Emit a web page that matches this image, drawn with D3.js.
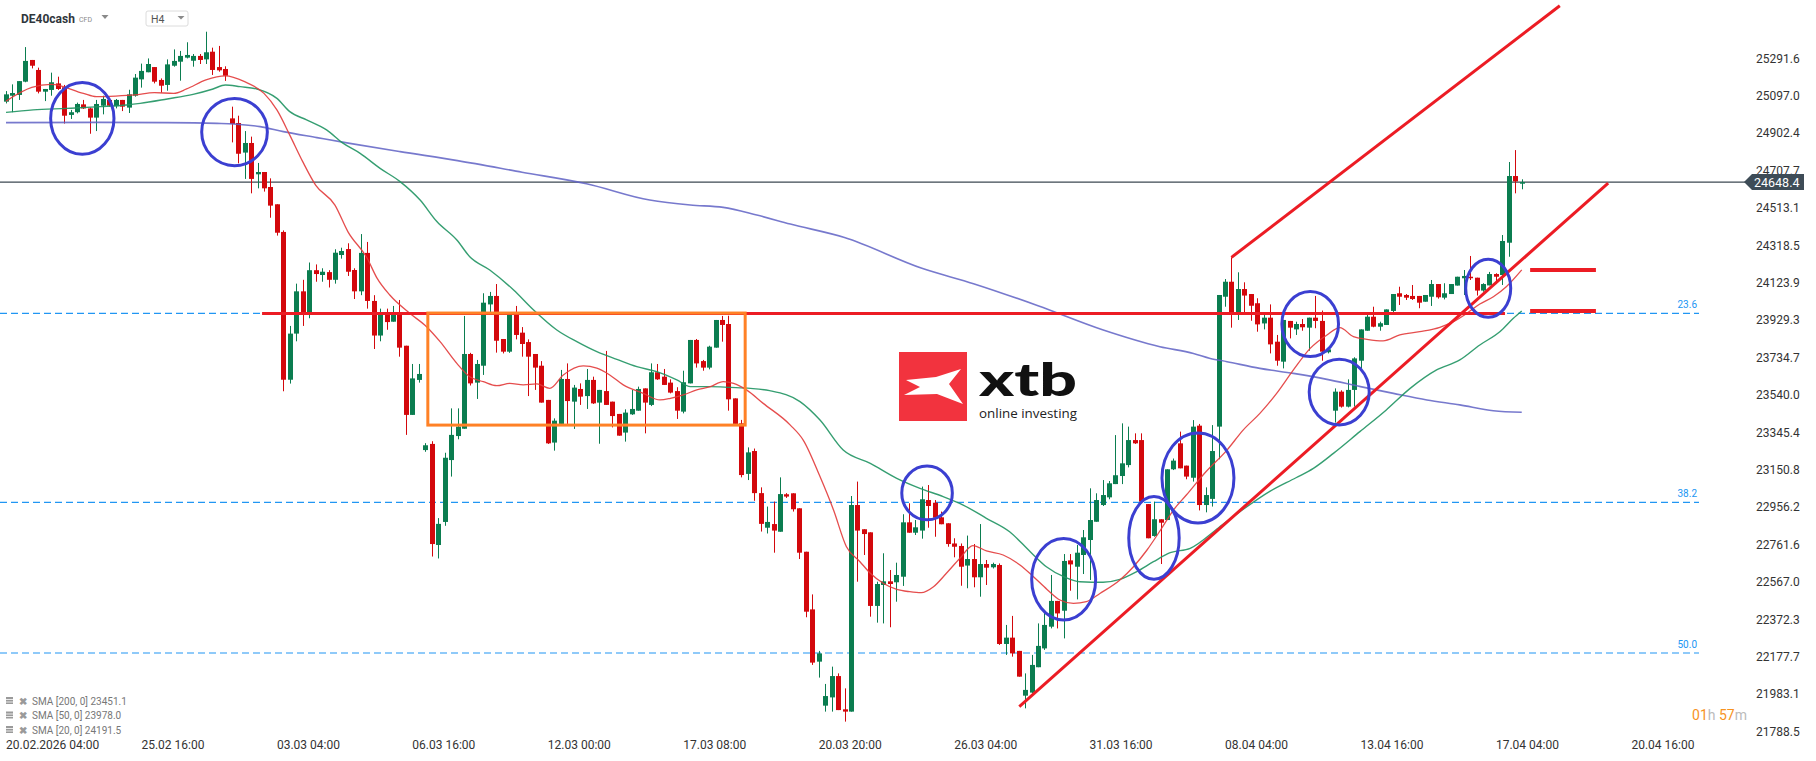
<!DOCTYPE html>
<html><head><meta charset="utf-8">
<script src="https://cdn.jsdelivr.net/npm/d3@7"></script>
<style>
html,body{margin:0;padding:0;background:#fff;}
svg{display:block;font-family:Roboto,"Noto Sans",sans-serif;}
</style></head><body>
<svg id="chart" width="1816" height="761"></svg>
<script>
// ---------- DATA (H4 candles, DE40cash) ----------
const opens = [25067,25098,25102,25171,25284,25232,25119,25128,25162,25142,24998,25012,25053,25032,24984,25046,25076,25044,25076,25036,
25098,25183,25220,25247,25180,25154,25254,25275,25296,25280,25305,25287,25327,25247,25237,24980,24956,24802,24852,24689,
24701,24623,24533,24389,23620,23860,24080,23960,24190,24165,24180,24140,24269,24300,24191,24080,24280,24030,23850,23960,
23922,23960,23797,23437,23619,23254,23286,22760,22880,23202,23327,23365,23754,23605,23693,24012,24056,23832,23766,23960,
23865,23816,23754,23693,23515,23293,23390,23624,23506,23572,23535,23619,23501,23561,23506,23442,23345,23440,23459,23575,
23489,23659,23636,23605,23561,23454,23601,23827,23717,23683,23787,23931,23910,23523,23393,23130,23249,23030,22850,22869,
22829,23024,23029,22951,22725,22425,22153,21924,21967,22078,21905,21893,22968,22842,22826,22443,22552,22571,22566,22595,
22878,22824,22835,22994,22980,22904,22873,22768,22755,22653,22687,22592,22661,22644,22656,22245,22278,22209,21976,21992,
22124,22222,22335,22469,22418,22680,22647,22708,22786,22881,22968,23008,23077,23119,23176,23306,23306,22973,22807,22894,
22890,23154,23289,23173,23110,23381,22968,23000,23376,24052,24130,23966,24092,24066,24018,23913,23943,23818,23714,23926,
23882,23910,23891,23943,23926,23763,23459,23558,23480,23567,23719,23875,23948,23896,23905,23978,24070,24061,24056,24056,
24026,24052,24118,24047,24066,24110,24148,24156,24151,24084,24111,24170,24165,24333,24680,24640];
const highs = [25122,25157,25174,25351,25284,25244,25133,25218,25197,25154,25024,25062,25076,25036,25076,25098,25081,25081,25076,25129,
25211,25265,25292,25247,25188,25287,25339,25331,25376,25315,25315,25431,25348,25357,25251,25041,24994,24914,24885,24748,
24701,24668,24533,24397,23900,24120,24140,24230,24220,24200,24190,24299,24307,24330,24200,24378,24337,24060,23990,23990,
24004,24035,23797,23702,23702,23290,23300,22900,23240,23471,23471,23952,23760,23723,24070,24077,24118,23832,23965,24004,
23894,23830,23754,23717,23515,23419,23671,23705,23593,23601,23676,23636,23567,23770,23506,23442,23466,23567,23584,23575,
23705,23702,23676,23622,23581,23667,23827,23832,23723,23797,23931,23952,23953,23523,23411,23268,23262,23060,22960,22986,
23112,23030,23029,22951,22725,22503,22209,22037,22127,22092,22014,23015,23090,22842,22826,22569,22717,22630,22668,22920,
22977,22890,23064,23072,22994,22934,22873,22795,22768,22809,22765,22869,22682,22668,22664,22344,22391,22209,22092,22188,
22352,22413,22604,22469,22713,22713,22760,22838,23055,23029,23098,23093,23332,23393,23376,23341,23341,22973,22986,22894,
23154,23210,23350,23173,23410,23390,23060,23384,24061,24144,24257,24179,24127,24066,24044,23971,24012,23853,23931,23926,
23922,23936,23943,24056,23980,23787,23575,23565,23622,23737,23882,23962,24000,23922,23986,24066,24104,24066,24113,24056,
24061,24139,24118,24122,24118,24156,24191,24264,24151,24122,24181,24174,24373,24753,24815,24663];
const lows = [25058,25012,25076,25168,25240,25110,25070,25098,25128,24953,24977,25006,25029,24900,24914,25001,25041,25032,25018,25008,
25093,25140,25220,25162,25114,25124,25249,25176,25292,25249,25263,25263,25206,25223,25175,24855,24746,24665,24590,24616,
24599,24463,24370,23560,23600,23820,23900,23940,24130,24130,24100,24120,24250,24160,24040,24060,23990,23780,23820,23880,
23922,23740,23333,23437,23605,23245,22700,22690,22860,23116,23310,23365,23590,23520,23645,23960,23761,23757,23760,23830,
23740,23535,23567,23501,23286,23251,23390,23390,23364,23489,23468,23494,23287,23489,23372,23329,23298,23437,23459,23341,
23483,23619,23593,23549,23416,23445,23601,23683,23667,23674,23787,23818,23459,23390,23112,23098,22990,22830,22820,22720,
22829,23005,22934,22687,22384,22136,22070,21893,21893,21901,21841,21893,22569,22708,22387,22356,22352,22332,22465,22547,
22824,22812,22793,22850,22803,22868,22751,22696,22548,22535,22540,22491,22552,22638,22240,22188,22179,22075,21910,21988,
22124,22214,22326,22326,22274,22522,22477,22609,22578,22881,22963,22998,23077,23077,23164,23286,22986,22795,22803,22661,
22890,23150,23159,23102,23090,22940,22930,22960,23206,24000,23891,23931,23971,23927,23870,23882,23757,23693,23679,23835,
23853,23875,23771,23888,23719,23757,23397,23475,23476,23480,23679,23875,23893,23875,23905,23962,24009,24035,24035,23992,
24026,24004,24042,24038,24066,24110,24061,24139,24058,24078,24111,24118,24113,24260,24590,24611];
const closes = [25105,25112,25174,25279,25254,25119,25133,25168,25133,24994,25012,25055,25032,24984,25055,25081,25046,25076,25041,25105,
25192,25227,25263,25171,25150,25261,25279,25305,25310,25305,25284,25324,25232,25230,25202,24951,24796,24852,24665,24701,
24616,24526,24385,23620,23860,24080,23960,24190,24170,24182,24140,24281,24290,24182,24080,24280,24030,23850,23960,23920,
23960,23787,23437,23627,23650,23279,22765,22870,23214,23333,23376,23754,23601,23702,24021,24056,23823,23766,23960,23853,
23806,23740,23683,23501,23289,23407,23624,23509,23579,23532,23619,23497,23567,23489,23431,23329,23449,23468,23572,23501,
23659,23622,23593,23553,23459,23607,23827,23705,23683,23792,23931,23905,23518,23390,23124,23242,23030,22870,22880,22835,
23025,23012,22946,22720,22413,22148,22196,21974,22078,21901,21893,22968,22835,22817,22443,22557,22571,22557,22604,22878,
22824,22852,22998,22963,22902,22868,22765,22751,22647,22687,22592,22661,22642,22661,22245,22278,22196,22075,22006,22136,
22235,22344,22469,22404,22677,22659,22720,22800,22890,22994,23020,23081,23123,23185,23306,23289,22986,22795,22894,22876,
23154,23199,23159,23116,23376,22968,23020,23249,24061,24130,23962,24092,24058,24005,23908,23943,23804,23719,23931,23891,
23910,23893,23943,23926,23766,23778,23558,23480,23567,23731,23882,23948,23896,23914,23986,24066,24052,24047,24040,24021,
24061,24118,24049,24070,24118,24156,24160,24153,24084,24118,24170,24156,24342,24680,24652,24648.4];

// moving averages: [candle index, value]
const sma20 = [[0,25070],[4,25141],[7,25157],[12,25110],[14,25093],[17,25096],[20,25102],[23,25114],[26,25110],[28,25133],[31,25180],[34,25201],[37,25171],[40,25110],[42,25024],[44,24893],[46,24755],[48,24633],[51,24529],[53,24391],[56,24252],[57.5,24150],[59.5,24061],[62.6,23966],[65.2,23896],[67.3,23818],[69.9,23705],[71.9,23636],[74,23610],[76.1,23589],[78.1,23601],[80.2,23593],[82.3,23598],[84.3,23575],[86.4,23645],[89.5,23692],[91.6,23680],[93.6,23645],[95.7,23593],[98.8,23549],[101.4,23515],[103,23523],[105,23541],[107.1,23567],[109.2,23584],[111.2,23610],[112.8,23601],[114.8,23567],[117.4,23497],[121.6,23384],[123.6,23306],[126.2,23116],[128.3,22942],[130.3,22751],[132.4,22673],[134,22613],[136,22561],[138.1,22529],[140.1,22517],[141.9,22512],[143.8,22543],[145.8,22613],[147.9,22691],[149.9,22757],[152,22729],[154.6,22708],[157.2,22656],[159.3,22595],[161.4,22529],[163.4,22474],[165.5,22456],[167.5,22465],[169.6,22508],[172.7,22578],[174.8,22647],[176.9,22734],[179,22838],[181,22942],[183,23020],[186,23140],[189.3,23254],[191.8,23358],[194.4,23445],[197,23549],[199.6,23671],[202.2,23783],[204.8,23853],[206.8,23891],[208.9,23844],[211,23830],[213.5,23822],[216.1,23853],[219.2,23870],[222.3,23893],[224.4,23922],[226.5,23966],[228.5,24014],[230.6,24052],[232.6,24104],[235,24191.5]];
const sma50 = [[0,25011],[4.2,25024],[9.4,25032],[14.6,25041],[18.7,25050],[20.8,25058],[25,25081],[29,25105],[32.1,25133],[34,25154],[36.3,25145],[38.9,25133],[42,25084],[44,25015],[46.6,24972],[49.7,24920],[52.3,24850],[54.9,24798],[58,24720],[61.1,24651],[64.2,24555],[66.8,24443],[69.9,24347],[71.9,24260],[75,24191],[78.7,24087],[81.8,23983],[85.4,23879],[88.5,23818],[91.6,23766],[94.7,23726],[97.8,23688],[100.9,23662],[104,23619],[106.1,23584],[109.2,23584],[112.3,23580],[115.4,23575],[118.4,23563],[123.1,23506],[126.2,23410],[129.8,23254],[134,23185],[138.1,23107],[141.7,23055],[145.3,23012],[148.4,22968],[152,22899],[155.6,22829],[158.8,22725],[161.3,22647],[164,22595],[166.5,22569],[170.1,22566],[172.7,22581],[175.3,22621],[177.9,22673],[180.5,22720],[183.6,22743],[188,22850],[192,22950],[196,23040],[200,23110],[202.7,23159],[205.8,23237],[209.9,23350],[214,23463],[217.7,23575],[221.8,23671],[225.4,23723],[228.5,23801],[231.6,23870],[233.7,23940],[235,23978.0]];
const sma200 = [[0,24958],[14.6,24959],[25,24958],[32.7,24954],[35.3,24951],[39.4,24937],[43,24911],[48.2,24880],[53.3,24850],[61.1,24807],[70,24760],[80,24700],[90,24640],[99.8,24555],[106.1,24529],[111.2,24517],[116.4,24477],[121.6,24430],[130,24360],[142,24200],[150,24120],[160,24005],[170,23880],[178.9,23792],[184.1,23757],[186.7,23731],[189.3,23714],[194.4,23679],[199.6,23653],[204.8,23622],[210,23584],[215.1,23549],[220.3,23515],[225.4,23489],[230.6,23459],[235,23451.1]];

const priceTicks = [25291.6,25097.0,24902.4,24707.7,24513.1,24318.5,24123.9,23929.3,23734.7,23540.0,23345.4,23150.8,22956.2,22761.6,22567.0,22372.3,22177.7,21983.1,21788.5];
const timeTickIdx = [0,21,42,63,84,105,126,147,168,189,210,231,252];
const timeTickLabels = ["20.02.2026 04:00","25.02 16:00","03.03 04:00","06.03 16:00","12.03 00:00","17.03 08:00","20.03 20:00","26.03 04:00","31.03 16:00","08.04 04:00","13.04 16:00","17.04 04:00","20.04 16:00"];
const fibLevels = [23965.7, 22982.2, 22198.0];
const fibLabels = ["23.6","38.2","50.0"];
const lastPrice = 24648.4;
const legendNames = ["SMA [200, 0]","SMA [50, 0]","SMA [20, 0]"];
const legendValues = ["23451.1","23978.0","24191.5"];
// annotations (candle index / price)
const resistance = {from:39.7, to:232.4, price:23965};
const rangeBox = {from:65.4, to:114.6, top:23967, bottom:23384};
const trendLow = [[157.1,21918.6],[248.4,24643.7]];
const trendHigh = [[190,24257],[240.9,25566]];
const smaMarks = [24191.5, 23978.0];
const circles = [[11.83,24980,4.91,187],[35.43,24909,5.09,175],[142.8,23031,3.92,140],[163.98,22582,4.96,212],[177.98,22797,3.91,215],[184.8,23109,5.58,234],[202.2,23910,4.39,169],[206.7,23556,4.65,171],[229.8,24096,3.49,151]];

// ---------- DRAW ----------
const svg = d3.select("#chart");
const N = opens.length;
const x = d3.scaleLinear().domain([0, N-1]).range([6, 6 + (N-1)*6.45]);
const y = d3.scaleLinear().domain([21788.5, 25291.6]).range([731.7, 58.5]);
const step = x(1) - x(0);
const GREEN = "#0b7d50", RED = "#d3080c";

// fib levels
const fib = svg.append("g");
fibLevels.forEach((lv,k)=>{
  fib.append("line").attr("x1",0).attr("x2",1699).attr("y1",y(lv)).attr("y2",y(lv))
    .attr("stroke","#2196f3").attr("stroke-width",1.2).attr("stroke-dasharray","7,4");
  fib.append("text").attr("x",1697).attr("y",y(lv)-5).attr("text-anchor","end")
    .attr("font-size",10).attr("fill","#2196f3").text(fibLabels[k]);
});

// current price line
svg.append("line").attr("x1",0).attr("x2",1746).attr("y1",y(lastPrice)).attr("y2",y(lastPrice))
  .attr("stroke","#3c4852").attr("stroke-width",1.2);

// candles
const idx = d3.range(N);
const cg = svg.append("g");
cg.selectAll("line.wick").data(idx).join("line")
  .attr("x1",i=>Math.round(x(i))+0.5).attr("x2",i=>Math.round(x(i))+0.5)
  .attr("y1",i=>y(highs[i])).attr("y2",i=>y(lows[i]))
  .attr("stroke",i=>closes[i]>=opens[i]?GREEN:RED).attr("stroke-width",1);
cg.selectAll("rect.body").data(idx).join("rect")
  .attr("x",i=>Math.round(x(i))-2).attr("width",5)
  .attr("y",i=>y(Math.max(opens[i],closes[i])))
  .attr("height",i=>Math.max(1.5, Math.abs(y(opens[i])-y(closes[i]))))
  .attr("fill",i=>closes[i]>=opens[i]?GREEN:RED);

// moving averages
const line = d3.line().x(d=>x(d[0])).y(d=>y(d[1])).curve(d3.curveMonotoneX);
svg.append("path").attr("d",line(sma200)).attr("fill","none").attr("stroke","#5f62c4").attr("stroke-opacity",0.85).attr("stroke-width",1.6);
svg.append("path").attr("d",line(sma50)).attr("fill","none").attr("stroke","#1f9462").attr("stroke-opacity",0.9).attr("stroke-width",1.4);
svg.append("path").attr("d",line(sma20)).attr("fill","none").attr("stroke","#e23a3a").attr("stroke-opacity",0.9).attr("stroke-width",1.3);

// resistance line
svg.append("line").attr("x1",x(resistance.from)).attr("x2",x(resistance.to))
  .attr("y1",y(resistance.price)).attr("y2",y(resistance.price))
  .attr("stroke","#ec1c24").attr("stroke-width",3);
// orange range box
svg.append("rect").attr("x",x(rangeBox.from)).attr("y",y(rangeBox.top))
  .attr("width",x(rangeBox.to)-x(rangeBox.from)).attr("height",y(rangeBox.bottom)-y(rangeBox.top))
  .attr("fill","none").attr("stroke","#ff8126").attr("stroke-width",3);
// trend / channel lines
[trendLow, trendHigh].forEach(t=>{
  svg.append("line").attr("x1",x(t[0][0])).attr("y1",y(t[0][1])).attr("x2",x(t[1][0])).attr("y2",y(t[1][1]))
    .attr("stroke","#ec1c24").attr("stroke-width",3);
});
// SMA value markers
smaMarks.forEach(v=>{
  svg.append("line").attr("x1",x(236.3)).attr("x2",x(246.5)).attr("y1",y(v)).attr("y2",y(v))
    .attr("stroke","#ec1c24").attr("stroke-width",4);
});
// circles
circles.forEach(c=>{
  svg.append("ellipse").attr("cx",x(c[0])).attr("cy",y(c[1]))
    .attr("rx",c[2]*step).attr("ry",Math.abs(y(c[1]+c[3])-y(c[1])))
    .attr("fill","none").attr("stroke","#3b3fd1").attr("stroke-width",3);
});

// price axis
const ax = svg.append("g");
priceTicks.forEach(v=>{
  ax.append("text").attr("x",1756).attr("y",y(v)).attr("dominant-baseline","central")
    .attr("font-size",12).attr("fill","#333").text(v.toFixed(1));
});
// last price tag
const yp = y(lastPrice);
ax.append("path").attr("d",`M1744,${yp} L1752,${yp-8} L1804,${yp-8} L1804,${yp+8} L1752,${yp+8} Z`).attr("fill","#3e4c57");
ax.append("text").attr("x",1754).attr("y",yp).attr("dominant-baseline","central")
  .attr("font-size",12.5).attr("fill","#fff").text(lastPrice.toFixed(1));

// time axis
timeTickIdx.forEach((t,k)=>{
  svg.append("text").attr("x",x(t)).attr("y",749).attr("font-size",12).attr("fill","#333").text(timeTickLabels[k]);
});

// countdown
const cd = svg.append("text").attr("x",1747).attr("y",720).attr("text-anchor","end").attr("font-size",14);
cd.append("tspan").attr("fill","#f7931e").text("01");
cd.append("tspan").attr("fill","#bbb").text("h ");
cd.append("tspan").attr("fill","#f7931e").text("57");
cd.append("tspan").attr("fill","#bbb").text("m");

// legend
legendNames.forEach((n,k)=>{
  const ly = 701 + k*14.5;
  const g = svg.append("g");
  g.append("rect").attr("x",6).attr("y",ly-4).attr("width",7).attr("height",7).attr("fill","#9a9a9a");
  g.append("line").attr("x1",6).attr("x2",13).attr("y1",ly-1.5).attr("y2",ly-1.5).attr("stroke","#fff").attr("stroke-width",0.8);
  g.append("line").attr("x1",6).attr("x2",13).attr("y1",ly+1).attr("y2",ly+1).attr("stroke","#fff").attr("stroke-width",0.8);
  g.append("text").attr("x",19).attr("y",ly).attr("dominant-baseline","central").attr("font-size",10).attr("font-weight","bold").attr("fill","#9a9a9a").text("✖");
  g.append("text").attr("x",32).attr("y",ly).attr("dominant-baseline","central").attr("font-size",10).attr("fill","#777").text(n+" "+legendValues[k]);
});

// header
svg.append("text").attr("x",21).attr("y",23).attr("font-size",12).attr("font-weight","bold").attr("fill","#2f363c").text("DE40cash");
svg.append("text").attr("x",79).attr("y",22).attr("font-size",7).attr("fill","#8a8a8a").text("CFD");
svg.append("path").attr("d","M101.5,15 L108.5,15 L105,19 Z").attr("fill","#8a8a8a");
svg.append("rect").attr("x",146).attr("y",11).attr("width",42).attr("height",15).attr("rx",2).attr("fill","#fff").attr("stroke","#dcdcdc");
svg.append("text").attr("x",151).attr("y",23).attr("font-size",10.5).attr("fill","#555").text("H4");
svg.append("path").attr("d","M177.5,16 L184.5,16 L181,19.5 Z").attr("fill","#8a8a8a");

// logo
const lg = svg.append("g");
lg.append("rect").attr("x",899).attr("y",352).attr("width",68).attr("height",69).attr("fill","#f2333e");
lg.append("path").attr("d","M906,380 L936,377 L961,369 L949,384 L963,404 L937,394 L904,395 L920,387 Z").attr("fill","#fff");
lg.append("text").attr("x",979).attr("y",396).attr("font-size",46).attr("font-weight","900")
  .attr("font-family","Lato, 'Liberation Sans', Arial, sans-serif").attr("fill","#111")
  .attr("textLength",98).attr("lengthAdjust","spacingAndGlyphs").text("xtb");
lg.append("text").attr("x",979).attr("y",418).attr("font-size",12.5)
  .attr("font-family","'Open Sans', Roboto, sans-serif").attr("fill","#222")
  .attr("textLength",98).attr("lengthAdjust","spacingAndGlyphs").text("online investing");
</script>
</body></html>
